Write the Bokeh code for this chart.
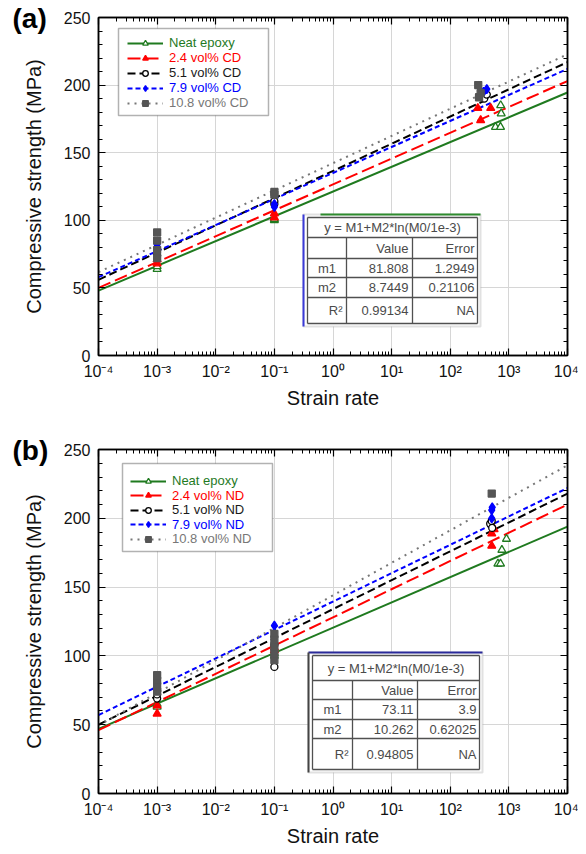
from bokeh.plotting import figure
from bokeh.models import (LinearAxis, LogAxis, FixedTicker, SingleIntervalTicker,
                          CustomJSTickFormatter, Legend, LegendItem, BoxAnnotation,
                          Label, Range1d)
from bokeh.layouts import column
from bokeh.embed import file_html
from bokeh.resources import INLINE

# ---------------- data ----------------
x_ticks = [1e-4, 1e-3, 1e-2, 1e-1, 1, 10, 100, 1000, 10000]
x_tick_labels = ["10⁻⁴", "10⁻³", "10⁻²", "10⁻¹", "10⁰", "10¹", "10²", "10³", "10⁴"]
y_ticks = [0, 50, 100, 150, 200, 250]
fit_rate = [1e-4, 1e4]

names_a = ["Neat epoxy", "2.4 vol% CD", "5.1 vol% CD", "7.9 vol% CD", "10.8 vol% CD"]
names_b = ["Neat epoxy", "2.4 vol% ND", "5.1 vol% ND", "7.9 vol% ND", "10.8 vol% ND"]

# panel (a) : CD
a_neat_rate = [1e-3, 1e-3, 0.1, 0.1, 590, 720, 740, 725]
a_neat_mpa = [64, 66, 100, 101, 169, 169, 179, 185]
a_cd24_rate = [1e-3, 1e-3, 0.1, 0.1, 295, 330, 490]
a_cd24_mpa = [68, 71, 102, 105, 183, 174, 183]
a_cd51_rate = [1e-3, 1e-3, 0.1, 0.1, 380, 420]
a_cd51_mpa = [74, 78, 112, 114, 190, 193]
a_cd79_rate = [1e-3, 1e-3, 0.1, 0.1, 370, 420]
a_cd79_mpa = [79, 82, 110, 112, 195, 197]
a_cd108_rate = [1e-3, 1e-3, 1e-3, 1e-3, 0.1, 0.1, 300, 330, 310]
a_cd108_mpa = [72, 78, 85, 91, 121, 119, 200, 194, 191]
a_fit_lo = [48.0, 50.0, 56.0, 58.0, 61.7]      # fit value at 1e-4
a_fit_hi = [194.5, 203.0, 217.0, 212.0, 222.8]  # fit value at 1e4

a_tab_eq = "y = M1+M2*ln(M0/1e-3)"
a_tab_head = ["Value", "Error"]
a_tab_rows = ["m1", "m2", "R²"]
a_tab_value = ["81.808", "8.7449", "0.99134"]
a_tab_error = ["1.2949", "0.21106", "NA"]

# panel (b) : ND
b_neat_rate = [1e-3, 1e-3, 0.1, 0.1, 650, 720, 760, 910]
b_neat_mpa = [63, 65, 100, 102, 167, 167, 177, 185]
b_nd24_rate = [1e-3, 1e-3, 0.1, 0.1, 510, 510, 560]
b_nd24_mpa = [64, 58, 104, 106, 189, 180, 192]
b_nd51_rate = [1e-3, 1e-3, 0.1, 0.1, 480, 510, 520]
b_nd51_mpa = [69, 72, 92, 108, 196, 198, 193]
b_nd79_rate = [1e-3, 0.1, 0.1, 510, 510, 520]
b_nd79_mpa = [76, 122, 104, 200, 206, 208]
b_nd108_rate = [1e-3, 1e-3, 1e-3, 1e-3, 0.1, 0.1, 0.1, 0.1, 0.1, 510]
b_nd108_mpa = [74, 78, 82, 86, 97, 102, 107, 112, 116, 218]
b_fit_lo = [47.0, 46.0, 50.0, 57.0, 49.5]
b_fit_hi = [194.0, 210.0, 218.0, 222.0, 238.5]

b_tab_eq = "y = M1+M2*ln(M0/1e-3)"
b_tab_head = ["Value", "Error"]
b_tab_rows = ["m1", "m2", "R²"]
b_tab_value = ["73.11", "10.262", "0.94805"]
b_tab_error = ["3.9", "0.62025", "NA"]

# ---------------- styles ----------------
FONT = "Liberation Sans"
LINE_COLORS = ["#1f7a1f", "#ff0000", "#000000", "#0000ff", "#777777"]
TEXT_COLORS = ["#1f7a1f", "#ff0000", "#1a1a1a", "#0000ff", "#777777"]
DASHES = ["solid", "13 5", "8 4", "5 3", "2 5"]
MARKERS = ["triangle", "triangle", "circle", "diamond", "square"]
M_FILL = ["white", "#ff0000", "white", "#0000ff", "#555555"]
M_LINE = ["#1f7a1f", "#ff0000", "#000000", "#0000ff", "#555555"]
M_SIZE = [8, 8, 7, 9, 7]

FRAME_L, FRAME_R = 98, 567
x_minor = [m * 10.0 ** e for e in range(-4, 4) for m in range(2, 10)]


def fx(px):
    return 10 ** (-4 + 8.0 * (px - FRAME_L) / (FRAME_R - FRAME_L))


def style_axis(ax, show):
    ax.axis_line_color = "black"
    ax.axis_line_width = 1.5
    ax.major_tick_in = 7
    ax.major_tick_out = 0
    ax.minor_tick_in = 4
    ax.minor_tick_out = 0
    ax.major_tick_line_color = "black"
    ax.minor_tick_line_color = "black"
    ax.major_tick_line_width = 1.2
    ax.minor_tick_line_width = 1
    if show:
        ax.major_label_text_font = FONT
        ax.major_label_text_font_size = "16px"
        ax.major_label_text_color = "#111111"
        ax.axis_label_text_font = FONT
        ax.axis_label_text_font_size = "20px"
        ax.axis_label_text_font_style = "normal"
        ax.axis_label_text_color = "#111111"
    else:
        ax.formatter = CustomJSTickFormatter(code="return ''")
        ax.major_label_text_font_size = "0px"
        ax.major_label_standoff = 0


def build(tag, names, series, fit_lo, fit_hi, tab, geo):
    top, bot = geo["frame"]
    fig_top = geo["fig_top"]
    H = geo["height"]

    def fy(py):
        return 250.0 * (bot - py) / (bot - top)

    p = figure(width=578, height=H, x_axis_type="log",
               x_range=Range1d(1e-4, 1e4), y_range=Range1d(0, 250),
               output_backend="svg", toolbar_location=None,
               min_border_left=FRAME_L, min_border_right=578 - FRAME_R,
               min_border_top=top - fig_top,
               min_border_bottom=H - (bot - fig_top))
    p.outline_line_color = "black"
    p.outline_line_width = 1.5

    # panel tag "(a)" / "(b)" as the plot title, pulled into the top-left corner
    p.title.text = tag
    p.title.align = "left"
    p.title.vertical_align = "bottom"
    p.title.offset = 12 - FRAME_L
    p.title.standoff = -32
    p.title.text_font = FONT
    p.title.text_font_size = "28px"
    p.title.text_font_style = "bold"
    p.title.text_color = "black"

    xt = FixedTicker(ticks=x_ticks, minor_ticks=x_minor)
    yt = SingleIntervalTicker(interval=50, num_minor_ticks=5)
    xfmt = CustomJSTickFormatter(args=dict(xt_vals=x_ticks, xt_labels=x_tick_labels), code="""
        let best = 0, bd = Infinity;
        for (let i = 0; i < xt_vals.length; i++) {
            const d = Math.abs(Math.log10(xt_vals[i]) - Math.log10(tick));
            if (d < bd) { bd = d; best = i; }
        }
        return xt_labels[best];
    """)
    xa = p.xaxis[0]
    xa.ticker = xt
    xa.formatter = xfmt
    style_axis(xa, True)
    xa.axis_label = "Strain rate"
    xa.major_label_standoff = 7
    xa.axis_label_standoff = 4
    ya = p.yaxis[0]
    ya.ticker = yt
    style_axis(ya, True)
    ya.axis_label = "Compressive strength (MPa)"
    ya.major_label_standoff = 8
    ya.axis_label_standoff = 16

    ra = LinearAxis(ticker=SingleIntervalTicker(interval=50, num_minor_ticks=5))
    style_axis(ra, False)
    p.add_layout(ra, "right")
    ta = LogAxis(ticker=FixedTicker(ticks=x_ticks, minor_ticks=x_minor))
    style_axis(ta, False)
    p.add_layout(ta, "above")

    p.xgrid.ticker = xt
    p.ygrid.ticker = yt
    p.xgrid.grid_line_color = "#d6d6d6"
    p.ygrid.grid_line_color = "#d6d6d6"

    # legend box and table box (white, above grid)
    lb = geo["legend_box"]
    p.add_layout(BoxAnnotation(left=fx(lb[0]), right=fx(lb[1]), top=fy(lb[2]), bottom=fy(lb[3]),
                               fill_color="white", fill_alpha=1, line_color="black",
                               line_width=1.5, level="underlay"))
    tb = geo["tab_outer"]
    p.add_layout(BoxAnnotation(left=fx(tb[0]), right=fx(tb[1]), top=fy(tb[2]), bottom=fy(tb[3]),
                               fill_color="white", fill_alpha=1, line_color="#9a9a9a",
                               line_width=2, level="underlay"))

    line_rs, scat_rs = [], []
    for i in range(5):
        line_rs.append(p.line(fit_rate, [fit_lo[i], fit_hi[i]], line_color=LINE_COLORS[i],
                              line_width=2, line_dash=DASHES[i]))
    for i in range(5):
        rates, mpas = series[i]
        scat_rs.append(p.scatter(rates, mpas, marker=MARKERS[i], size=M_SIZE[i],
                                 line_color=M_LINE[i], fill_color=M_FILL[i], line_width=1.3))

    # table lines
    il, ir, it, ib = geo["tab_inner"]
    x0, y0, x1, y1 = [], [], [], []
    for hy in [it, ib] + geo["tab_rows_y"]:
        x0.append(fx(il)); x1.append(fx(ir)); y0.append(fy(hy)); y1.append(fy(hy))
    for vx in [il, ir]:
        x0.append(fx(vx)); x1.append(fx(vx)); y0.append(fy(it)); y1.append(fy(ib))
    for vx in geo["tab_cols_x"]:
        x0.append(fx(vx)); x1.append(fx(vx)); y0.append(fy(geo["tab_rows_y"][0])); y1.append(fy(ib))
    p.segment(x0, y0, x1, y1, line_color="#505050", line_width=1.3)
    for (sx0, sy0, sx1, sy1, col) in geo["tab_edges"]:
        p.segment([fx(sx0)], [fy(sy0)], [fx(sx1)], [fy(sy1)], line_color=col, line_width=2)

    eq, head, rows, vals, errs = tab
    tc = "#4a4a4a"
    fs = "13px"

    def lab(px, py, text, align):
        p.add_layout(Label(x=fx(px), y=fy(py), text=text, text_align=align,
                           text_baseline="middle", text_font=FONT, text_font_size=fs,
                           text_color=tc))

    ty = geo["tab_text_y"]
    tx = geo["tab_text_x"]
    lab((il + ir) / 2.0, ty[0], eq, "center")
    lab(tx[1], ty[1], head[0], "right")
    lab(tx[2], ty[1], head[1], "right")
    for k in range(3):
        if k < 2:
            lab(tx[0], ty[2 + k], rows[k], "center")
        else:
            lab(tx[3], ty[2 + k], rows[k], "right")
        lab(tx[1], ty[2 + k], vals[k], "right")
        lab(tx[2], ty[2 + k], errs[k], "right")

    # legends: one per item so each label has its own colour
    for i in range(5):
        lg = Legend(items=[LegendItem(label=names[i], renderers=[line_rs[i], scat_rs[i]])],
                    location=(geo["legend_x"] - FRAME_L, bot - geo["legend_y"][i] - 7),
                    orientation="vertical", padding=0, margin=0,
                    border_line_color=None, background_fill_alpha=0,
                    label_text_font=FONT, label_text_font_size="13px",
                    label_text_color=TEXT_COLORS[i], glyph_width=36, glyph_height=14,
                    label_height=14, label_standoff=6, spacing=0)
        p.add_layout(lg)
    return p


geo_a = dict(height=428, fig_top=0, frame=(17, 355),
             legend_box=(118, 268, 28, 115), legend_x=127, legend_y=[43, 58, 73, 88, 103],
             tab_outer=(303, 480, 214, 326), tab_inner=(307, 477, 217, 323),
             tab_rows_y=[237, 258, 277, 297], tab_cols_x=[346, 412],
             tab_text_y=[227, 247.5, 267.5, 287, 310], tab_text_x=[326.5, 408, 474, 342],
             tab_edges=[(303, 214, 303, 326, "#3a3ad8"), (320, 214, 480, 214, "#2e8b2e")])
geo_b = dict(height=424, fig_top=428, frame=(449, 793),
             legend_box=(122, 272, 463, 551), legend_x=130, legend_y=[481, 495.5, 510, 524.5, 539],
             tab_outer=(308, 482, 652, 772), tab_inner=(312, 479, 655, 769),
             tab_rows_y=[680, 699, 719, 738], tab_cols_x=[352, 417],
             tab_text_y=[667.5, 689.5, 709, 728.5, 753.5], tab_text_x=[332, 413, 476, 348],
             tab_edges=[(308, 652, 482, 652, "#2a2a9a"), (308, 652, 308, 772, "#444444")])

series_a = [(a_neat_rate, a_neat_mpa), (a_cd24_rate, a_cd24_mpa), (a_cd51_rate, a_cd51_mpa),
            (a_cd79_rate, a_cd79_mpa), (a_cd108_rate, a_cd108_mpa)]
series_b = [(b_neat_rate, b_neat_mpa), (b_nd24_rate, b_nd24_mpa), (b_nd51_rate, b_nd51_mpa),
            (b_nd79_rate, b_nd79_mpa), (b_nd108_rate, b_nd108_mpa)]

p1 = build("(a)", names_a, series_a, a_fit_lo, a_fit_hi,
           (a_tab_eq, a_tab_head, a_tab_rows, a_tab_value, a_tab_error), geo_a)
p2 = build("(b)", names_b, series_b, b_fit_lo, b_fit_hi,
           (b_tab_eq, b_tab_head, b_tab_rows, b_tab_value, b_tab_error), geo_b)

layout = column(p1, p2, spacing=0)
open("out.html", "w").write(file_html(layout, INLINE))
